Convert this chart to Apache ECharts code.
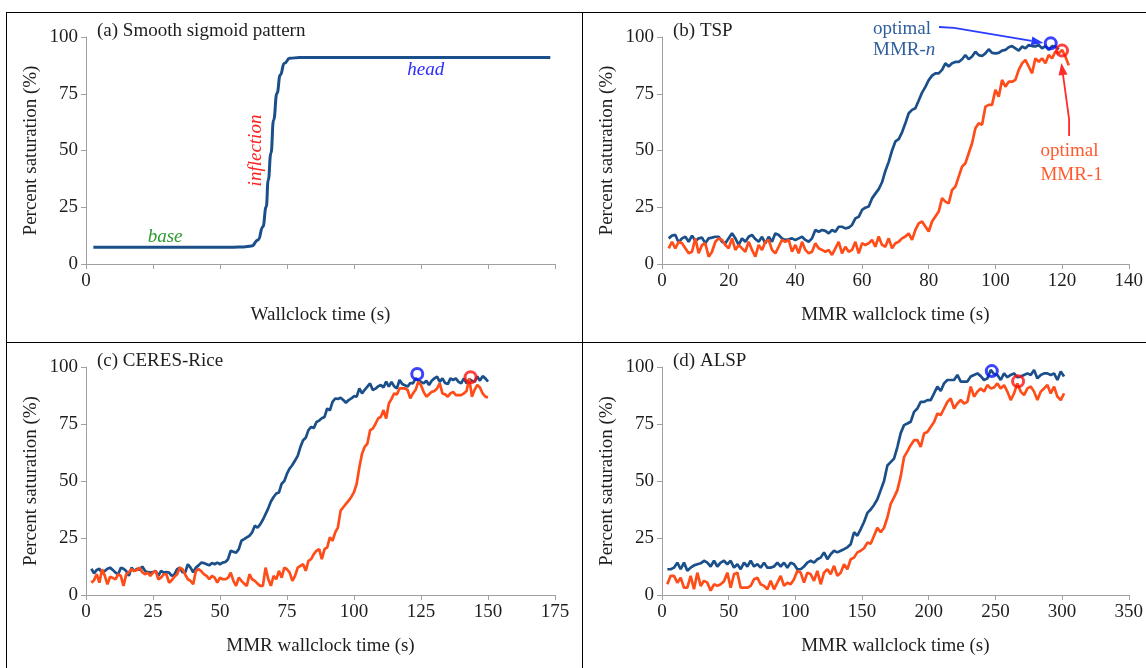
<!DOCTYPE html>
<html><head><meta charset="utf-8">
<script src="https://cdn.jsdelivr.net/npm/echarts@6/dist/echarts.min.js"></script>
<style>html,body{margin:0;padding:0;background:#fff}#c{width:1146px;height:668px}</style>
</head><body><div id="c"></div><script>
// ---------- data ----------
// (a) smooth sigmoid
const sigX = [0.11, 1.2, 2.2, 2.35, 2.47, 2.57, 2.64, 2.69, 2.72, 2.76, 2.80, 2.85, 2.90, 2.96, 3.04, 3.19, 3.5, 5.0, 6.93];
const sigY = [7.4, 7.4, 7.4, 7.5, 7.9, 10.6, 16.4, 25.2, 37, 48.8, 63.4, 75.2, 83.3, 88.4, 90.6, 91, 91, 91, 91];

// (b) TSP : samples every 1 s
const bStart = 2, bStep = 1;
const bMMRn = [11.3,12.5,12.8,9.5,11.3,12.0,9.8,12.5,10.2,11.3,11.6,9.1,11.3,11.6,12.0,12.0,9.8,9.1,11.3,13.5,
  11.3,8.4,11.3,9.8,12.0,12.8,11.0,9.8,12.0,9.1,12.0,9.8,13.5,12.8,11.3,10.6,10.9,11.3,10.6,11.3,
  12.0,10.6,9.8,11.3,15.0,14.2,15.0,14.6,13.5,15.0,14.2,16.4,16.4,15.7,16.0,17.2,20.1,20.8,23.8,24.8,
  25.3,28.9,31,33,36,41,45,50,54,55,58,62,66.4,67.9,68.6,72,75.5,78,81,83,
  84,84,85.5,88.4,87,88.4,89,89,90.2,92,90.2,91.4,93.5,92,91.6,92.8,94.6,93,92.8,93,
  94,94.3,95.5,96,95,94,95.8,95,96.5,96,95.8,96.5,95,96,94.3,96,95.8,94.5];
const bMMR1 = [6.9,9.8,6.9,9.8,9.1,6.9,4.7,5.4,11.3,4.7,8.4,9.1,3.2,5.4,9.8,11.3,10.6,8.4,6.9,11.3,
  6.2,8.4,6.9,5.4,9.8,6.2,3.2,8.4,6.2,9.8,10.6,6.2,4.7,7.6,10.6,9.8,10.6,5.4,8.4,4.7,
  9.8,6.2,4.7,5.4,9.1,6.9,6.2,5.4,6.2,4.0,6.9,9.8,4.7,7.6,5.4,6.2,9.8,4.7,9.1,8.4,
  9.1,10.6,7.6,12.1,8.4,7.6,11.3,6.9,9.1,9.8,
  11.3,12.1,13.5,10.6,15.0,17.9,18.7,16.5,14.3,18.7,20.9,23.1,29.0,27.5,26.7,32.6,34.1,38.5,42.9,44.4,
  48.8,53.2,59.8,62.0,61.3,69.3,70.1,70.1,76.7,73.7,81.1,78.1,80.3,80.3,81.1,85.5,88.4,89.9,87.0,84.0,
  90.6,89.1,90.6,88.4,92.1,90.6,93.6,92.8,94.3,91.4,87.5];
const bOptN = [116.6, 97.2], bOpt1 = [120.0, 94.0];

// (c) CERES-Rice : samples every 1 s
const cStart = 2, cStep = 1;
const cMMRn = [11.5,9.5,11.0,11.5,9.5,10.5,11.5,12.0,11.0,9.8, 9.0,12.0,11.5,10.5,8.4,12.0,10.5,11.5,11.0,12.5,
  10.6,10.0,9.8,10.0,10.6,8.4,10.6,9.8,10.0,9.8, 8.4,9.0,11.3,12.0,10.0,9.8,13.5,12.0,10.0,12.0,
  13.0,14.2,14.0,13.5,13.0,14.0,13.5,14.2,13.5,14.2, 14.5,15.7,19.4,19.0,18.5,20.1,23.8,24.5,25.3,26.0,
  27.5,30.4,29.5,31.0,33.0,35.5,38.0,41.0,43.0,44.5, 45.0,48.8,50.0,53.2,55.5,57.0,59.0,61.0,64.9,67.9,
  69.0,72.3,73.7,73.2,75.9,76.5,77.5,78.1,81.8,81.0, 84.7,86.2,86.0,86.5,85.5,84.3,85.5,86.2,87.2,87.0,
  90.6,88.4,90.0,91.4,92.8,89.9,90.5,91.5,92.1,91.0, 93.6,91.4,93.5,91.5,90.6,94.3,92.5,92.0,91.4,93.0,
  92.8,95.0,94.0,93.5,92.8,94.0,92.1,94.0,95.0,95.8, 93.5,95.0,93.0,92.5,95.0,94.3,95.0,93.5,92.8,95.0,
  92.8,94.6,94.0,93.5,95.8,94.0,96.0,95.0,93.6];
const cMMR1 = [5.4,6.5,9.1,5.4,11.3,8.5,4.7,8.0,7.5,6.9, 9.1,8.4,4.0,9.1,10.0,11.3,10.5,11.0,12.0,10.0,
  9.1,9.8,8.4,9.8,10.6,6.9,7.6,9.1,9.1,5.4, 6.5,8.0,9.1,12.0,11.3,9.0,6.9,6.2,4.7,10.6,
  11.3,10.5,9.1,8.4,6.9,8.4,7.6,5.4,7.6,6.9, 6.9,7.5,9.8,6.2,4.0,7.6,6.2,5.0,4.0,9.1,
  6.9,6.2,5.0,4.0,4.0,12.0,7.0,4.0,8.4,6.9, 10.6,7.6,12.0,11.3,9.8,6.2,8.4,12.0,12.8,13.5,
  10.6,15.0,15.7,17.9,19.4,20.1,15.7,20.1,20.9,25.3, 23.8,27.5,29.7,37.0,38.5,40.0,41.4,43.0,45.1,48.8,
  56.0,62.0,65.0,66.4,72.3,73.0,75.0,77.4,78.1,81.1, 77.4,84.0,86.0,88.4,88.0,90.6,90.6,90.6,89.9,86.2,
  88.4,90.0,93.6,92.0,89.0,87.0,88.0,89.1,89.5,90.6, 92.8,88.4,88.0,87.0,88.4,89.1,87.7,87.7,87.7,88.4,
  89.5,95.0,87.0,90.0,92.1,91.0,88.4,87.0,86.7];
const cOptN = [123.6, 96.9], cOpt1 = [143.5, 95.5];

// (d) ALSP : samples every 2.5 s
const dStart = 4, dStep = 2.5;
const dMMRn = [11.3,11.3,12.0,14.2,11.3,14.2,10.6,12.0,13.0,13.5, 13.9,15.0,14.2,12.5,15.0,12.5,14.2,15.0,13.5,15.0,
  12.0,13.5,11.3,14.2,12.5,15.0,12.5,13.5,12.0,14.2, 12.0,12.0,12.5,14.2,12.5,14.2,12.0,14.2,13.5,11.3,
  11.3,12.5,14.2,15.0,14.2,15.7,16.4,18.7,15.7,17.9, 19.4,18.7,19.4,20.1,20.9,22.3,27.5,26.0,28.9,32.0,
  36.0,37.5,39.5,42.0,46.0,50.0,56.8,58.3,59.8,64.9, 71.0,74.5,75.2,76.0,80.3,81.8,84.7,84.7,85.5,85.5,
  88.4,91.4,89.5,92.8,94.3,94.3,94.3,96.5,93.6,93.6, 93.6,95.8,96.5,97.2,96.0,94.3,95.0,98.7,96.9,96.5,
  94.3,97.2,95.5,96.5,97.2,95.5,95.8,96.5,97.2,96.5, 98.7,95.0,96.5,97.2,97.2,96.5,97.2,94.3,98.0,95.8];
const dMMR1 = [4.7,8.4,8.4,5.4,7.6,3.2,3.2,8.4,2.5,9.8, 4.0,6.2,5.4,1.9,4.7,4.0,4.7,6.0,9.8,3.2,
  9.1,9.8,3.2,3.2,3.2,4.0,6.9,7.6,4.7,4.0, 2.5,6.2,2.5,5.4,8.4,4.0,5.4,4.7,6.9,10.6,
  9.8,5.4,9.8,9.1,6.2,10.6,4.7,9.8,11.3,9.1, 12.8,8.4,9.8,13.5,11.3,15.7,16.4,18.7,19.4,20.5,
  23.0,22.5,26.0,29.5,27.5,29.5,34.0,40.0,42.8,46.0, 52.0,60.5,63.0,65.7,67.9,67.9,64.9,70.8,71.5,73.7,
  75.9,79.6,78.9,81.8,84.7,86.2,81.8,84.0,85.5,84.0, 84.7,91.4,87.0,89.2,90.6,89.2,92.1,90.6,91.0,92.8,
  90.6,92.0,89.2,85.5,88.4,92.8,89.2,87.7,90.6,91.4, 89.2,85.5,89.2,90.6,92.1,88.4,91.4,87.0,85.5,88.4];
const dOptN = [247.3, 98.2], dOpt1 = [267.0, 93.7];

// axis ranges / tick labels
const xMaxA = 7, xStepA = 1, xTickLabelsA = ['0'];
const xMaxB = 140, xStepB = 20;
const xMaxC = 175, xStepC = 25;
const xMaxD = 350, xStepD = 50;
const yMax = 100, yStep = 25;

// ---------- styling ----------
const FONT = '"Liberation Serif", "Times New Roman", serif';
const NAVY = '#1b4f8a', ORANGE = '#ff4d1a', AXIS = '#a0a0a0', TXT = '#1e1e1e';
const FS = 19;

function pairs(start, step, ys){ return ys.map((v,i)=>[start+i*step, v]); }

const grids = [
  {left:86, top:37, width:469, height:227},
  {left:662, top:37, width:470, height:227},
  {left:86, top:367, width:469, height:228},
  {left:662, top:367, width:470, height:228}
];

function xAxis(gi, max, interval, name, fmt){
  return {type:'value', gridIndex:gi, min:0, max:max, interval:interval, name:name,
    nameLocation:'middle', nameGap:42,
    nameTextStyle:{fontFamily:FONT, fontSize:FS, color:TXT},
    axisLine:{show:true, lineStyle:{color:AXIS, width:1}},
    axisTick:{show:true, length:5, lineStyle:{color:AXIS}},
    axisLabel:{fontFamily:FONT, fontSize:FS, color:TXT, margin:8, formatter:fmt},
    splitLine:{show:false}};
}
function yAxis(gi){
  return {type:'value', gridIndex:gi, min:0, max:yMax, interval:yStep, name:'Percent saturation (%)',
    nameLocation:'middle', nameGap:45,
    nameTextStyle:{fontFamily:FONT, fontSize:FS, color:TXT},
    axisLine:{show:true, lineStyle:{color:AXIS, width:1}},
    axisTick:{show:true, length:5, lineStyle:{color:AXIS}},
    axisLabel:{fontFamily:FONT, fontSize:FS, color:TXT, margin:8},
    splitLine:{show:false}};
}
function lineS(gi, data, color, extra){
  return Object.assign({type:'line', xAxisIndex:gi, yAxisIndex:gi, data:data, showSymbol:false,
    symbol:'none', lineStyle:{color:color, width:2.7}, itemStyle:{color:color}, silent:true, z:2}, extra||{});
}
function circleS(gi, pt, color){
  return {type:'scatter', xAxisIndex:gi, yAxisIndex:gi, data:[pt], symbol:'circle', symbolSize:11,
    itemStyle:{color:'rgba(0,0,0,0)', borderColor:color, borderWidth:3}, silent:true, z:5};
}

const titleStyle = {fontFamily:FONT, fontSize:FS, fontWeight:'normal', color:TXT};
const option = {
  animation:false,
  backgroundColor:'#fff',
  title:[
    {text:'(a) Smooth sigmoid pattern', left:97, top:22, padding:0, textStyle:titleStyle},
    {text:'(b) TSP', left:673, top:22, padding:0, textStyle:titleStyle},
    {text:'(c) CERES-Rice', left:97, top:352, padding:0, textStyle:titleStyle},
    {text:'(d) ALSP', left:673, top:352, padding:0, textStyle:titleStyle}
  ],
  grid:grids,
  xAxis:[
    xAxis(0, xMaxA, xStepA, 'Wallclock time (s)', v => (xTickLabelsA.indexOf(String(v))>=0 ? String(v) : '')),
    xAxis(1, xMaxB, xStepB, 'MMR wallclock time (s)'),
    xAxis(2, xMaxC, xStepC, 'MMR wallclock time (s)'),
    xAxis(3, xMaxD, xStepD, 'MMR wallclock time (s)')
  ],
  yAxis:[yAxis(0), yAxis(1), yAxis(2), yAxis(3)],
  series:[
    lineS(0, sigX.map((x,i)=>[x, sigY[i]]), NAVY, {smooth:0.5, smoothMonotone:'x', lineStyle:{color:NAVY, width:3}}),
    lineS(1, pairs(bStart,bStep,bMMRn), NAVY),
    lineS(1, pairs(bStart,bStep,bMMR1), ORANGE),
    circleS(1, bOptN, '#0a14ff'), circleS(1, bOpt1, '#ff1010'),
    lineS(2, pairs(cStart,cStep,cMMRn), NAVY),
    lineS(2, pairs(cStart,cStep,cMMR1), ORANGE),
    circleS(2, cOptN, '#0a14ff'), circleS(2, cOpt1, '#ff1010'),
    lineS(3, pairs(dStart,dStep,dMMRn), NAVY),
    lineS(3, pairs(dStart,dStep,dMMR1), ORANGE),
    circleS(3, dOptN, '#0a14ff'), circleS(3, dOpt1, '#ff1010')
  ]
};

const chart = echarts.init(document.getElementById('c'), null, {renderer:'canvas'});
chart.setOption(option);

// ---------- annotations (anchored in data coordinates) ----------
const P = (gi, pt) => chart.convertToPixel({gridIndex:gi}, pt);
function txt(gi, pt, text, color, opts){
  const p = P(gi, pt);
  return Object.assign({type:'text', x:p[0], y:p[1], silent:true, z:10,
    style:Object.assign({text:text, fill:color, fontFamily:FONT, fontSize:FS, align:'center', verticalAlign:'middle'}, (opts&&opts.style)||{})},
    opts&&opts.rotation!==undefined ? {rotation:opts.rotation} : {});
}
function arrow(gi, pts, color){
  const p = pts.map(q => P(gi, q));
  const tip = p[p.length-1], prev = p[p.length-2];
  const dx = tip[0]-prev[0], dy = tip[1]-prev[1], L = Math.hypot(dx,dy), ux = dx/L, uy = dy/L;
  const len = 12, hw = 4.5;
  const base = [tip[0]-ux*len, tip[1]-uy*len];
  const l = [base[0]-uy*hw, base[1]+ux*hw], r = [base[0]+uy*hw, base[1]-ux*hw];
  return [
    {type:'polyline', silent:true, z:10, shape:{points:p.slice(0,-1).concat([base])}, style:{stroke:color, lineWidth:1.8, fill:null}},
    {type:'polygon', silent:true, z:10, shape:{points:[tip,l,r]}, style:{fill:color}}
  ];
}
const frame = {stroke:'#000', lineWidth:1};
const graphic = [
  {type:'line', shape:{x1:6, y1:12.5, x2:1146, y2:12.5}, style:frame, silent:true},
  {type:'line', shape:{x1:6.5, y1:12, x2:6.5, y2:668}, style:frame, silent:true},
  {type:'line', shape:{x1:582.5, y1:12, x2:582.5, y2:668}, style:frame, silent:true},
  {type:'line', shape:{x1:6, y1:342.5, x2:1146, y2:342.5}, style:frame, silent:true},
  txt(0, [1.18, 11.9], 'base', '#2e9a2e', {style:{fontStyle:'italic'}}),
  txt(0, [5.07, 85.5], 'head', '#2b2bff', {style:{fontStyle:'italic'}}),
  txt(0, [2.54, 50], 'inflection', '#ff2020', {rotation:Math.PI/2, style:{fontStyle:'italic'}}),
  txt(1, [63.3, 103.6], 'optimal', '#2f5f9e', {style:{align:'left'}}),
  txt(1, [63.3, 94.2], 'MMR-{i|n}', '#2f5f9e', {style:{align:'left', rich:{i:{fontStyle:'italic', fontFamily:FONT, fontSize:FS, fill:'#2f5f9e'}}}}),
  txt(1, [113.5, 49.8], 'optimal', '#ff5a2e', {style:{align:'left'}}),
  txt(1, [113.5, 39.2], 'MMR-1', '#ff5a2e', {style:{align:'left'}})
].concat(
  arrow(1, [[83.1, 104.4], [87.6, 104.0], [114.4, 97.4]], '#2a3cff'),
  arrow(1, [[122.1, 56.4], [122.1, 63.9], [119.8, 88.5]], '#ff2a2a')
);
chart.setOption({graphic: graphic});
</script></body></html>
